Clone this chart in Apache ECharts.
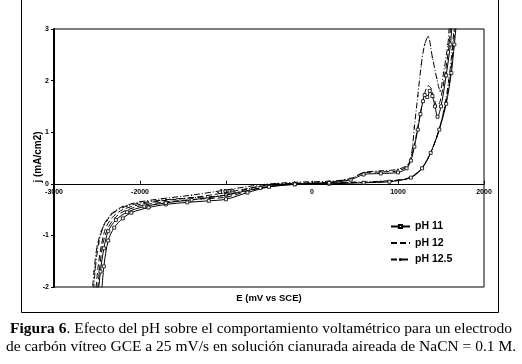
<!DOCTYPE html>
<html>
<head>
<meta charset="utf-8">
<script src="https://cdn.jsdelivr.net/npm/echarts@6/dist/echarts.min.js"></script>
<style>
html, body { margin: 0; padding: 0; background: #fff; }
#chart { width: 522px; height: 364px; }
</style>
</head>
<body>
<div id="chart"></div>
<script>
// axis ranges
const xRange = [-3000, 2000]
const yRange = [-2, 3]
const seriesNames = ['pH 11', 'pH 12', 'pH 12.5']

// E (mV vs SCE) / j (mA/cm2), one loop per pH, forward then reverse sweep
const ph11E = [-2450, -2420, -2370, -2300, -2200, -2100, -1900, -1700, -1450, -1200, -1000, -750, -500, -200, 200, 600, 900, 1150, 1280, 1380, 1480, 1560, 1620, 1655, 1690,
    1650, 1610, 1560, 1500, 1460, 1430, 1400, 1370, 1340, 1310, 1290, 1260, 1230, 1190, 1150, 1100, 1000, 800, 600, 450, 200, -200, -600, -1000, -1400, -1700, -1950, -2150, -2280, -2370, -2420, -2460, -2490]
const ph11J = [-2.2, -1.6, -1.1, -0.85, -0.67, -0.56, -0.46, -0.4, -0.36, -0.33, -0.3, -0.17, -0.06, -0.01, 0, 0.02, 0.04, 0.12, 0.3, 0.6, 1.05, 1.55, 2.15, 2.7, 3.3,
    3.3, 2.7, 2.1, 1.5, 1.3, 1.5, 1.7, 1.8, 1.68, 1.72, 1.6, 1.35, 1.05, 0.72, 0.45, 0.3, 0.22, 0.2, 0.18, 0.08, 0.02, -0.01, -0.08, -0.22, -0.31, -0.37, -0.44, -0.55, -0.7, -0.92, -1.25, -1.7, -2.2]

const ph12E = [-2500, -2470, -2430, -2370, -2280, -2170, -1980, -1750, -1500, -1250, -1000, -700, -400, 0, 400, 800, 1120, 1265, 1365, 1465, 1545, 1605, 1643, 1678,
    1635, 1595, 1545, 1490, 1455, 1420, 1385, 1350, 1310, 1270, 1230, 1190, 1150, 1100, 1000, 800, 600, 450, 200, -200, -600, -1000, -1400, -1750, -2000, -2200, -2320, -2400, -2450, -2490, -2520]
const ph12J = [-2.2, -1.65, -1.15, -0.85, -0.64, -0.52, -0.42, -0.36, -0.32, -0.29, -0.26, -0.12, -0.03, 0, 0.02, 0.04, 0.11, 0.28, 0.55, 0.98, 1.48, 2.05, 2.65, 3.3,
    3.3, 2.7, 2.1, 1.6, 1.5, 1.65, 1.85, 1.9, 1.75, 1.45, 1.1, 0.75, 0.48, 0.33, 0.25, 0.23, 0.21, 0.1, 0.03, 0.01, -0.05, -0.17, -0.27, -0.33, -0.4, -0.5, -0.65, -0.86, -1.2, -1.65, -2.2]

const ph125E = [-2560, -2535, -2500, -2450, -2380, -2290, -2150, -1950, -1700, -1400, -1000, -700, -400, 0, 400, 800, 1100, 1250, 1350, 1450, 1530, 1590, 1630, 1665,
    1620, 1580, 1530, 1490, 1450, 1400, 1350, 1310, 1270, 1230, 1190, 1160, 1120, 1000, 800, 600, 450, 200, -200, -600, -1000, -1400, -1750, -2000, -2200, -2330, -2420, -2480, -2520, -2545]
const ph125J = [-2.2, -1.7, -1.22, -0.92, -0.7, -0.54, -0.43, -0.36, -0.31, -0.27, -0.22, -0.08, 0, 0.01, 0.03, 0.05, 0.1, 0.25, 0.5, 0.9, 1.4, 2.0, 2.6, 3.3,
    3.3, 2.7, 2.15, 1.8, 2.05, 2.45, 2.85, 2.7, 2.3, 1.7, 1.1, 0.6, 0.38, 0.28, 0.25, 0.22, 0.1, 0.05, 0.03, -0.02, -0.12, -0.22, -0.29, -0.35, -0.44, -0.58, -0.8, -1.15, -1.65, -2.2]

const zip = (xs, ys) => xs.map((x, i) => [x, ys[i]])

const sans = 'Liberation Sans'
const serif = 'Liberation Serif'

const chart = echarts.init(document.getElementById('chart'), null, { renderer: 'canvas' })

const option = {
    animation: false,
    backgroundColor: '#fff',
    grid: {
        left: 54,
        right: 38,
        top: 29,
        bottom: 77,
        show: true,
        borderColor: '#000',
        borderWidth: 1
    },
    legend: {
        orient: 'vertical',
        left: 385,
        top: 216,
        itemWidth: 19,
        itemHeight: 4,
        itemGap: 5.5,
        data: [
            seriesNames[0],
            { name: seriesNames[1], itemStyle: { opacity: 0 } },
            seriesNames[2]
        ],
        textStyle: { fontFamily: sans, fontWeight: 'bold', fontSize: 10.5, color: '#000' }
    },
    xAxis: {
        type: 'value',
        min: xRange[0],
        max: xRange[1],
        interval: 1000,
        position: 'bottom',
        offset: -103.2, // axis sits on j = 0
        splitLine: { show: false },
        axisLine: { onZero: false, lineStyle: { color: '#000', width: 1 } },
        axisTick: { inside: true, length: 3, lineStyle: { color: '#000' } },
        axisLabel: { fontFamily: sans, fontWeight: 'bold', fontSize: 7, color: '#000', margin: 5, formatter: v => String(v) }
    },
    yAxis: {
        type: 'value',
        min: yRange[0],
        max: yRange[1],
        interval: 1,
        splitLine: { show: false },
        axisLine: { onZero: false, lineStyle: { color: '#000', width: 2 } },
        axisTick: { length: 3, lineStyle: { color: '#000' } },
        axisLabel: { fontFamily: sans, fontWeight: 'bold', fontSize: 7, color: '#000', margin: 5 }
    },
    series: [
        {
            name: seriesNames[0],
            type: 'line',
            data: zip(ph11E, ph11J),
            smooth: 0.3,
            symbol: 'rect',
            symbolSize: 3,
            itemStyle: { color: '#fff', borderColor: '#000', borderWidth: 0.8 },
            lineStyle: { color: '#000', width: 1 }
        },
        {
            name: seriesNames[1],
            type: 'line',
            data: zip(ph12E, ph12J),
            smooth: 0.3,
            symbol: 'none',
            itemStyle: { color: '#000' },
            lineStyle: { color: '#000', width: 1, type: [6, 3] }
        },
        {
            name: seriesNames[2],
            type: 'line',
            data: zip(ph125E, ph125J),
            smooth: 0.3,
            symbol: 'circle',
            symbolSize: 1.5,
            itemStyle: { color: '#000' },
            lineStyle: { color: '#000', width: 1, type: [6, 2, 1, 2] }
        }
    ],
    graphic: [
        // outer chart frame
        {
            type: 'rect',
            shape: { x: 21.5, y: -1, width: 477, height: 313.5 },
            style: { fill: null, stroke: '#000', lineWidth: 1 },
            silent: true
        },
        {
            type: 'text',
            x: 38,
            y: 157,
            rotation: Math.PI / 2,
            style: {
                text: 'j (mA/cm2)',
                font: 'bold 10px ' + sans,
                fill: '#000',
                textAlign: 'center',
                textVerticalAlign: 'middle'
            }
        },
        {
            type: 'text',
            x: 269,
            y: 298,
            style: {
                text: 'E (mV vs SCE)',
                font: 'bold 9.5px ' + sans,
                fill: '#000',
                textAlign: 'center',
                textVerticalAlign: 'middle'
            }
        },
        {
            type: 'text',
            x: 261,
            y: 329,
            style: {
                text: '{b|Figura 6}. Efecto del pH sobre el comportamiento voltamétrico para un electrodo',
                font: '15.5px ' + serif,
                fill: '#000',
                textAlign: 'center',
                textVerticalAlign: 'middle',
                rich: { b: { fontWeight: 'bold', fontFamily: serif, fontSize: 15.5 } }
            }
        },
        {
            type: 'text',
            x: 261,
            y: 347,
            style: {
                text: 'de carbón vítreo GCE a 25 mV/s en solución cianurada aireada de NaCN = 0.1 M.',
                font: '15.5px ' + serif,
                fill: '#000',
                textAlign: 'center',
                textVerticalAlign: 'middle'
            }
        }
    ]
}

chart.setOption(option)
</script>
</body>
</html>
